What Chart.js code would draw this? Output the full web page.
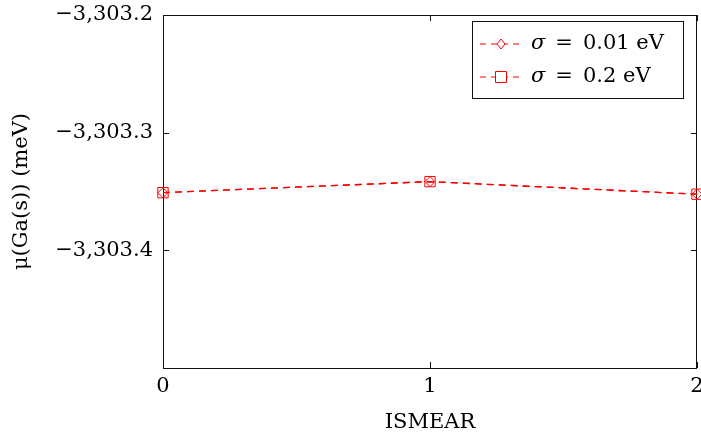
<!DOCTYPE html>
<html>
<head>
<meta charset="utf-8">
<script src="https://cdn.jsdelivr.net/npm/chart.js@4"></script>
<style>
  html, body { margin: 0; padding: 0; background: #fff; }
  #wrap { width: 701px; height: 439px; }
</style>
</head>
<body>
<div id="wrap"><canvas id="c" width="701" height="439"></canvas></div>
<script>
  // ---- data ----
  const ismear = ['0', '1', '2'];
  const sigma001 = [-3303.351, -3303.3416, -3303.3523];
  const sigma02 = [-3303.351, -3303.3416, -3303.3523];
  const seriesNames = ['0.01 eV', '0.2 eV'];
  const yMin = -3303.5;
  const yMax = -3303.2;
  const yStep = 0.1;

  const FONT = 'DejaVu Serif';
  const RED = '#ff0000';

  function fmtTick(v) {
    if (Math.abs(v - yMin) < 1e-6) return '';
    const s = Math.abs(v).toFixed(1).split('.');
    const intPart = s[0].replace(/\B(?=(\d{3})+(?!\d))/g, ',');
    return (v < 0 ? '\u2212' : '') + intPart + '.' + s[1];
  }

  // frame box with inward tick marks (pgfplots style)
  const framePlugin = {
    id: 'frame',
    beforeDatasetsDraw(chart) {
      const { ctx, chartArea: a, scales } = chart;
      ctx.save();
      ctx.strokeStyle = '#111';
      ctx.lineWidth = 1;
      ctx.strokeRect(Math.round(a.left) + 0.5, Math.round(a.top) + 0.5,
        Math.round(a.right - a.left) - 1, Math.round(a.bottom - a.top));
      ctx.beginPath();
      scales.y.ticks.forEach(t => {
        const y = Math.round(scales.y.getPixelForValue(t.value)) + 0.5;
        ctx.moveTo(a.left, y); ctx.lineTo(a.left + 6, y);
        ctx.moveTo(a.right, y); ctx.lineTo(a.right - 6, y);
      });
      scales.x.ticks.forEach((t, i) => {
        const x = Math.round(scales.x.getPixelForTick(i)) + 0.5;
        ctx.moveTo(x, a.bottom); ctx.lineTo(x, a.bottom - 6);
        ctx.moveTo(x, a.top); ctx.lineTo(x, a.top + 6);
      });
      ctx.stroke();
      ctx.restore();
    },
  };

  // legend box drawn by hand (dash - marker - dash, then text)
  const legendPlugin = {
    id: 'texLegend',
    afterDraw(chart) {
      const { ctx } = chart;
      const box = { x: 472.5, y: 21.5, w: 211, h: 77 };
      ctx.save();
      ctx.fillStyle = '#fff';
      ctx.fillRect(box.x, box.y, box.w, box.h);
      ctx.strokeStyle = '#111';
      ctx.lineWidth = 1;
      ctx.strokeRect(box.x, box.y, box.w, box.h);
      const rows = [44, 77];
      chart.data.datasets.forEach((ds, i) => {
        const y = rows[i];
        ctx.strokeStyle = RED;
        ctx.lineWidth = 1.2;
        ctx.setLineDash([6, 5]);
        ctx.beginPath();
        ctx.moveTo(480, y); ctx.lineTo(522, y);
        ctx.stroke();
        ctx.setLineDash([]);
        ctx.fillStyle = '#fff';
        ctx.lineWidth = 1;
        ctx.beginPath();
        if (ds.pointStyle === 'rectRot') {
          ctx.moveTo(501, y - 5); ctx.lineTo(505, y); ctx.lineTo(501, y + 5); ctx.lineTo(497, y);
          ctx.closePath();
        } else {
          ctx.rect(495.5, y - 5.5, 11, 11);
        }
        ctx.fill();
        ctx.stroke();
        ctx.fillStyle = '#000';
        ctx.textBaseline = 'middle';
        ctx.font = 'italic 21px ' + FONT;
        ctx.fillText('\u03c3', 531, y);
        const sw = ctx.measureText('\u03c3').width;
        ctx.font = '21px ' + FONT;
        ctx.fillText('=', 531 + sw + 10, y);
        const ew = ctx.measureText('=').width;
        ctx.fillText(seriesNames[i], 531 + sw + 10 + ew + 10, y);
      });
      ctx.restore();
    },
  };

  new Chart(document.getElementById('c'), {
    type: 'line',
    data: {
      labels: ismear,
      datasets: [
        {
          label: '\u03c3 = ' + seriesNames[0],
          data: sigma001,
          borderColor: RED,
          backgroundColor: '#fff',
          borderWidth: 1.3,
          borderDash: [7, 5],
          pointStyle: 'rectRot',
          pointRadius: 5,
          pointBorderWidth: 1,
          pointBorderColor: RED,
          pointBackgroundColor: 'rgba(255,255,255,0)',
          tension: 0,
          clip: false,
        },
        {
          label: '\u03c3 = ' + seriesNames[1],
          data: sigma02,
          borderColor: RED,
          backgroundColor: '#fff',
          borderWidth: 1.3,
          borderDash: [7, 5],
          pointStyle: 'rect',
          pointRadius: 7.3,
          pointBorderWidth: 1,
          pointBorderColor: RED,
          pointBackgroundColor: 'rgba(255,255,255,0)',
          tension: 0,
          clip: false,
        },
      ],
    },
    options: {
      responsive: false,
      animation: false,
      layout: { autoPadding: false, padding: { left: 0, top: 15, right: 4, bottom: 0 } },
      plugins: {
        legend: { display: false },
        tooltip: { enabled: false },
      },
      scales: {
        x: {
          type: 'category',
          offset: false,
          grid: { display: false, drawTicks: false },
          border: { display: false },
          ticks: {
            color: '#000',
            font: { family: FONT, size: 21 },
            padding: 6,
            maxRotation: 0,
            autoSkip: false,
          },
          title: {
            display: true,
            text: 'ISMEAR',
            color: '#000',
            font: { family: FONT, size: 21 },
            padding: { top: 0, bottom: 4 },
          },
          afterFit(scale) {
            scale.height = 71;
            scale.paddingLeft = 0;
            scale.paddingRight = 0;
          },
        },
        y: {
          min: yMin,
          max: yMax,
          grid: { display: false, drawTicks: false },
          border: { display: false },
          ticks: {
            stepSize: yStep,
            color: '#000',
            font: { family: FONT, size: 21 },
            padding: 10,
            callback: (v) => fmtTick(v),
          },
          title: {
            display: true,
            text: '\u03bc(Ga(s)) (meV)',
            color: '#000',
            font: { family: FONT, size: 21 },
            padding: { top: 9, bottom: 0 },
          },
          afterFit(scale) {
            scale.width = 163;
            scale.paddingTop = 0;
            scale.paddingBottom = 0;
          },
        },
      },
    },
    plugins: [framePlugin, legendPlugin],
  });
</script>
</body>
</html>
